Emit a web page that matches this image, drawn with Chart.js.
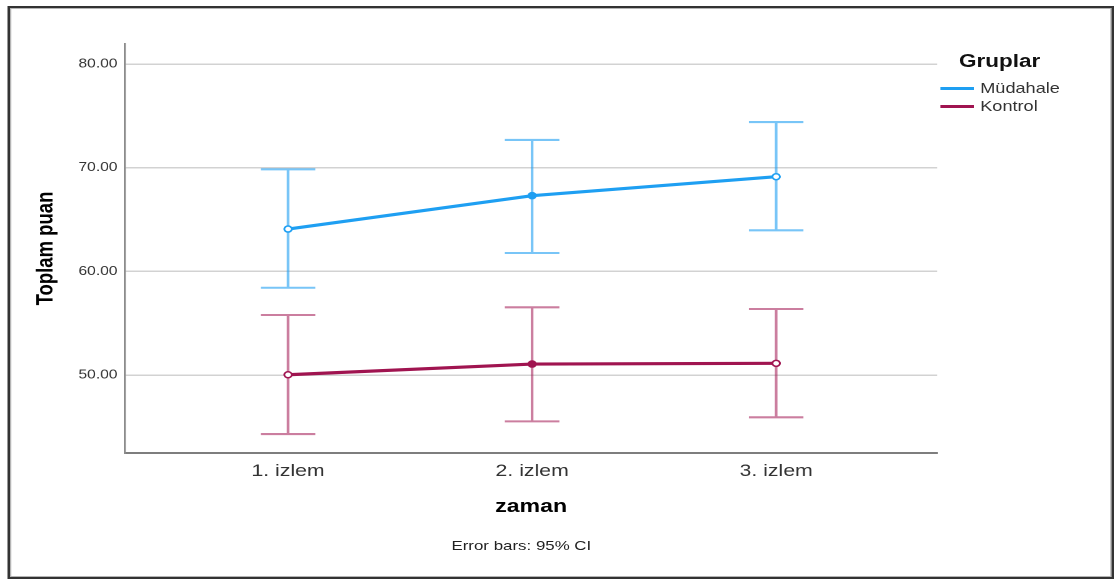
<!DOCTYPE html>
<html>
<head>
<meta charset="utf-8">
<script src="https://cdn.jsdelivr.net/npm/chart.js@4.4.1/dist/chart.umd.min.js"></script>
<style>
  html, body { margin: 0; padding: 0; background: #fff; overflow: hidden; }
  /* the source picture is an SPSS chart stretched sideways, so the whole sheet is drawn narrow and widened */
  #sheet {
    position: absolute; left: 0; top: 0;
    width: 891px; height: 579px;
    transform: scaleX(1.2503); transform-origin: 0 0;
    font-family: 'Liberation Sans', Arial, sans-serif;
  }
  #frame {
    position: absolute; left: 5.8px; top: 6px; width: 885px; height: 573px;
    box-sizing: border-box; border: 2.5px solid #333;
    box-shadow: inset 0 0 0 1px #b4b4b4;
  }
  #chart { position: absolute; left: 0; top: 0; }
  .txt { position: absolute; white-space: nowrap; line-height: 1; }
  #legendTitle { left: 767px; top: 52px; font-size: 18px; font-weight: bold; color: #111; }
  .legItem { position: absolute; left: 752px; height: 14px; }
  .legItem span.swatch { position: absolute; left: 0; top: 5.5px; width: 27px; height: 3px; }
  .legItem span.label { position: absolute; left: 32px; top: 0; font-size: 14.5px; color: #333; white-space: nowrap; line-height: 1; }
  #footnote { left: 317px; width: 200px; top: 538.5px; text-align: center; font-size: 13.5px; color: #222; }
</style>
</head>
<body>
<div id="sheet">
  <div id="frame"></div>
  <canvas id="chart" width="891" height="579"></canvas>
  <div id="legendTitle" class="txt">Gruplar</div>
  <div id="legend"></div>
  <div id="footnote" class="txt">Error bars: 95% CI</div>
</div>
<script>
// time points on the x axis
const timeLabels = ['1. izlem', '2. izlem', '3. izlem'];
const timePoints = [1, 2, 3];

// group means and 95% CI limits
const mudahaleMean = [64.08, 67.30, 69.13];
const mudahaleLower = [58.42, 61.77, 63.96];
const mudahaleUpper = [69.84, 72.68, 74.40];

const kontrolMean = [50.03, 51.06, 51.13];
const kontrolLower = [44.31, 45.53, 45.92];
const kontrolUpper = [55.79, 56.53, 56.37];

// y axis
const yTicks = [50, 60, 70, 80];
const yMin = 42.48;
const yMax = 81.93;
const xMin = 0.332;
const xMax = 3.66;

const BLUE = '#1e9ff2';
const MAROON = '#a01450';

Chart.defaults.font.family = "'Liberation Sans', Arial, sans-serif";

const toPoints = (vals) => vals.map((v, i) => ({ x: timePoints[i], y: v }));

// draws the CI whiskers under the mean lines
const errorBars = {
  id: 'errorBars',
  beforeDatasetsDraw(chart) {
    const { ctx, scales: { x, y } } = chart;
    const cap = 21.8;
    chart.data.datasets.forEach((ds) => {
      ctx.save();
      ctx.strokeStyle = ds.errorColor;
      ctx.lineWidth = 2.1;
      ds.lower.forEach((lo, i) => {
        const px = x.getPixelForValue(timePoints[i]);
        const top = y.getPixelForValue(ds.upper[i]);
        const bot = y.getPixelForValue(lo);
        ctx.beginPath();
        ctx.moveTo(px, top);
        ctx.lineTo(px, bot);
        ctx.moveTo(px - cap, top);
        ctx.lineTo(px + cap, top);
        ctx.moveTo(px - cap, bot);
        ctx.lineTo(px + cap, bot);
        ctx.stroke();
      });
      ctx.restore();
    });
  }
};

const datasets = [
  {
    label: 'Müdahale',
    data: toPoints(mudahaleMean),
    lower: mudahaleLower,
    upper: mudahaleUpper,
    borderColor: BLUE,
    errorColor: 'rgba(30, 159, 242, 0.6)',
    pointBackgroundColor: ['#fff', BLUE, '#fff'],
    pointBorderColor: BLUE
  },
  {
    label: 'Kontrol',
    data: toPoints(kontrolMean),
    lower: kontrolLower,
    upper: kontrolUpper,
    borderColor: MAROON,
    errorColor: 'rgba(160, 20, 80, 0.55)',
    pointBackgroundColor: ['#fff', MAROON, '#fff'],
    pointBorderColor: MAROON
  }
].map((d) => Object.assign({
  borderWidth: 3.2,
  pointRadius: 3,
  pointBorderWidth: 1.5,
  tension: 0,
  clip: false
}, d));

new Chart(document.getElementById('chart'), {
  type: 'line',
  data: { datasets },
  plugins: [errorBars],
  options: {
    responsive: false,
    animation: false,
    events: [],
    devicePixelRatio: 2,
    layout: {
      autoPadding: false,
      padding: { left: 20, top: 44, right: 141.4, bottom: 40 }
    },
    plugins: {
      legend: { display: false },
      tooltip: { enabled: false }
    },
    scales: {
      x: {
        type: 'linear',
        min: xMin,
        max: xMax,
        afterBuildTicks: (scale) => { scale.ticks = timePoints.map((v) => ({ value: v })); },
        afterFit: (scale) => { scale.height = 86; },
        grid: { display: false, drawTicks: false },
        border: { display: true, color: '#7e7e7e', width: 2 },
        ticks: {
          padding: 8,
          maxRotation: 0,
          color: '#333',
          font: { size: 17 },
          callback: (v) => timeLabels[timePoints.indexOf(v)]
        },
        title: {
          display: true,
          text: 'zaman',
          color: '#000',
          font: { size: 18.5, weight: 'bold' },
          padding: { top: 0, bottom: 21 }
        }
      },
      y: {
        min: yMin,
        max: yMax,
        afterBuildTicks: (scale) => { scale.ticks = yTicks.map((v) => ({ value: v })); },
        afterFit: (scale) => { scale.width = 80; },
        grid: { color: '#d2d2d2', lineWidth: 1.5, drawTicks: false },
        border: { display: true, color: '#8c8c8c', width: 1.6 },
        ticks: {
          padding: 6,
          color: '#333',
          font: { size: 12.5 },
          callback: (v) => v.toFixed(2)
        },
        title: {
          display: true,
          text: 'Toplam puan',
          color: '#000',
          font: { size: 18.5, weight: 'bold' },
          padding: { top: 5.9, bottom: 0 }
        }
      }
    }
  }
});

// legend on the right, built from the datasets
const legendTops = [81, 99.3];
const legend = document.getElementById('legend');
datasets.forEach((ds, i) => {
  const item = document.createElement('div');
  item.className = 'legItem';
  item.style.top = legendTops[i] + 'px';
  item.innerHTML = '<span class="swatch" style="background:' + ds.borderColor + '"></span>' +
    '<span class="label">' + ds.label + '</span>';
  legend.appendChild(item);
});
</script>
</body>
</html>
